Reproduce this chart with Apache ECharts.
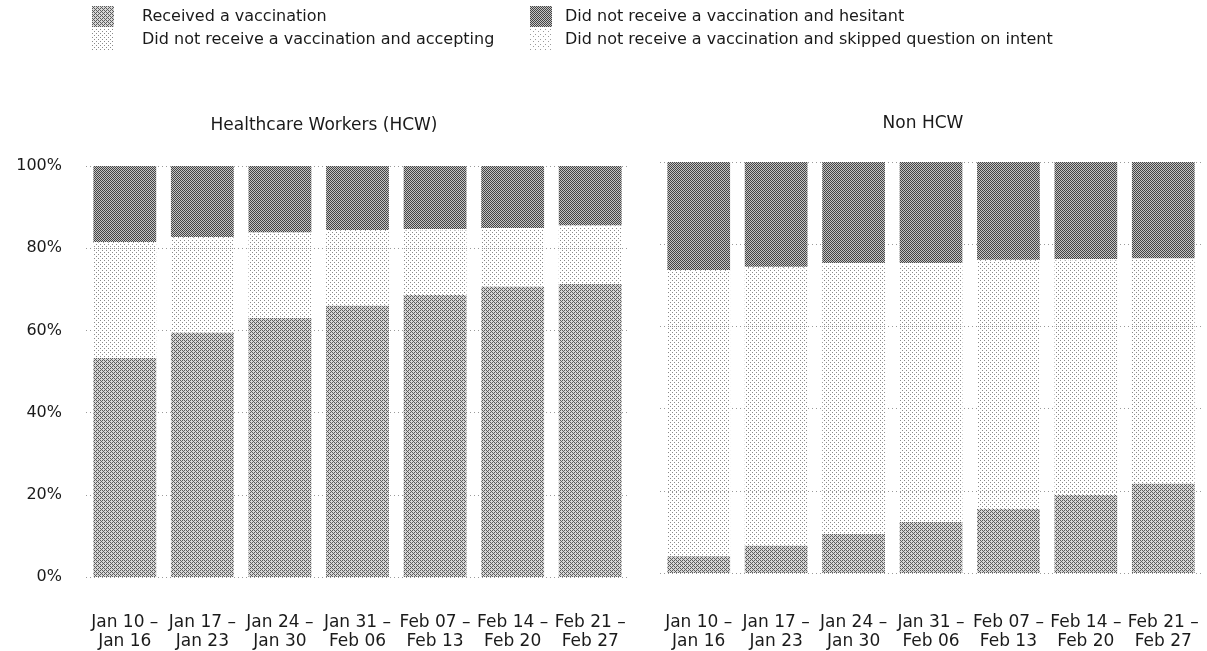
<!DOCTYPE html>
<html>
<head>
<meta charset="utf-8">
<title>Vaccination status by week</title>
<script src="https://cdn.jsdelivr.net/npm/echarts@6/dist/echarts.min.js"></script>
<style>
  html, body { margin: 0; padding: 0; background: #ffffff; }
  #chart { width: 1207px; height: 651px; }
</style>
</head>
<body>
<div id="chart"></div>
<script>
// Weekly survey periods
const weeks = [
  'Jan 10 \u2013\nJan 16', 'Jan 17 \u2013\nJan 23', 'Jan 24 \u2013\nJan 30', 'Jan 31 \u2013\nFeb 06',
  'Feb 07 \u2013\nFeb 13', 'Feb 14 \u2013\nFeb 20', 'Feb 21 \u2013\nFeb 27'
];

// Healthcare workers (percent of respondents)
const hcwReceived  = [53.3, 59.4, 63.0, 66.0, 68.6, 70.6, 71.3];
const hcwAccepting = [27.8, 22.9, 20.5, 18.0, 15.7, 13.9, 13.9];
const hcwSkipped   = [0.4, 0.4, 0.4, 0.4, 0.4, 0.4, 0.4];
const hcwHesitant  = [18.5, 17.3, 16.1, 15.6, 15.3, 15.1, 14.4];

// Non healthcare workers (percent of respondents)
const nonReceived  = [4.1, 6.6, 9.5, 12.4, 15.6, 19.0, 21.7];
const nonAccepting = [69.2, 67.5, 65.5, 62.6, 60.2, 57.0, 54.5];
const nonSkipped   = [0.4, 0.4, 0.4, 0.4, 0.4, 0.4, 0.4];
const nonHesitant  = [26.3, 25.5, 24.6, 24.6, 23.8, 23.6, 23.4];

const yTicks = [0, 20, 40, 60, 80, 100];

const NAMES = {
  received: 'Received a vaccination',
  accepting: 'Did not receive a vaccination and accepting',
  hesitant: 'Did not receive a vaccination and hesitant',
  skipped: 'Did not receive a vaccination and skipped question on intent'
};

// Ordered-dither tiles used as print-style fills
const BAYER = [[0, 8, 2, 10], [12, 4, 14, 6], [3, 11, 1, 9], [15, 7, 13, 5]];

function ditherFill(dark, light, threshold) {
  const c = document.createElement('canvas');
  c.width = 4; c.height = 4;
  const ctx = c.getContext('2d');
  for (let y = 0; y < 4; y++) {
    for (let x = 0; x < 4; x++) {
      ctx.fillStyle = BAYER[y][x] < threshold ? dark : light;
      ctx.fillRect(x, y, 1, 1);
    }
  }
  return { image: c, repeat: 'repeat' };
}

function dotFill(dot, size, spots) {
  const c = document.createElement('canvas');
  c.width = size; c.height = size;
  const ctx = c.getContext('2d');
  ctx.fillStyle = dot;
  spots.forEach(function (p) { ctx.fillRect(p[0], p[1], 1, 1); });
  return { image: c, repeat: 'repeat' };
}

const fills = {
  received: ditherFill('#5c5c5c', '#d6d6d6', 6),
  hesitant: ditherFill('#444444', '#c4c4c4', 8),
  accepting: dotFill('#8a8a8a', 4, [[0, 0], [2, 2]]),
  skipped: dotFill('#9a9a9a', 5, [[0, 0], [3, 2]])
};

const FONT = 'DejaVu Sans';

function makeSeries(gridIdx, received, accepting, skipped, hesitant) {
  const parts = [
    ['received', received],
    ['accepting', accepting],
    ['skipped', skipped],
    ['hesitant', hesitant]
  ];
  return parts.map(function (p) {
    return {
      name: NAMES[p[0]],
      type: 'bar',
      stack: 'g' + gridIdx,
      xAxisIndex: gridIdx,
      yAxisIndex: gridIdx,
      barWidth: '81%',
      data: p[1],
      itemStyle: { color: fills[p[0]] },
      emphasis: { disabled: true }
    };
  });
}

function legendBlock(left, items, textGap) {
  return {
    left: left,
    top: 1,
    orient: 'vertical',
    itemWidth: 22,
    itemHeight: 21,
    itemGap: 2,
    icon: 'rect',
    selectedMode: false,
    data: items,
    textStyle: { fontFamily: FONT, fontSize: 16, color: '#1a1a1a', padding: [0, 0, 0, textGap] }
  };
}

function xAxisFor(gridIdx, margin) {
  return {
    type: 'category',
    gridIndex: gridIdx,
    data: weeks,
    axisLine: { show: false },
    axisTick: { show: false },
    axisLabel: {
      interval: 0,
      margin: margin,
      fontFamily: FONT,
      fontSize: 17,
      lineHeight: 19,
      color: '#1a1a1a'
    }
  };
}

function yAxisFor(gridIdx, showLabels) {
  return {
    type: 'value',
    gridIndex: gridIdx,
    min: yTicks[0],
    max: yTicks[yTicks.length - 1],
    interval: yTicks[1] - yTicks[0],
    axisLine: { show: false },
    axisTick: { show: false },
    axisLabel: {
      show: showLabels,
      margin: 24,
      fontFamily: FONT,
      fontSize: 16,
      color: '#1a1a1a',
      formatter: '{value}%'
    },
    splitLine: { show: true, lineStyle: { color: '#9a9a9a', type: [1, 3], width: 1 } }
  };
}

const chart = echarts.init(document.getElementById('chart'), null, { renderer: 'canvas' });

chart.setOption({
  backgroundColor: '#ffffff',
  animation: false,
  title: [
    { text: 'Healthcare Workers (HCW)', left: 319, top: 112, textAlign: 'center',
      textStyle: { fontFamily: FONT, fontSize: 17, fontWeight: 'normal', color: '#1a1a1a' } },
    { text: 'Non HCW', left: 918, top: 110, textAlign: 'center',
      textStyle: { fontFamily: FONT, fontSize: 17, fontWeight: 'normal', color: '#1a1a1a' } }
  ],
  legend: [
    legendBlock(87, [NAMES.received, NAMES.accepting], 23),
    legendBlock(525, [NAMES.hesitant, NAMES.skipped], 8)
  ],
  grid: [
    { left: 86, right: 578, top: 166, bottom: 74 },
    { left: 660, right: 5, top: 162, bottom: 78 }
  ],
  xAxis: [xAxisFor(0, 36), xAxisFor(1, 40)],
  yAxis: [yAxisFor(0, true), yAxisFor(1, false)],
  series: makeSeries(0, hcwReceived, hcwAccepting, hcwSkipped, hcwHesitant)
    .concat(makeSeries(1, nonReceived, nonAccepting, nonSkipped, nonHesitant))
});
</script>
</body>
</html>
